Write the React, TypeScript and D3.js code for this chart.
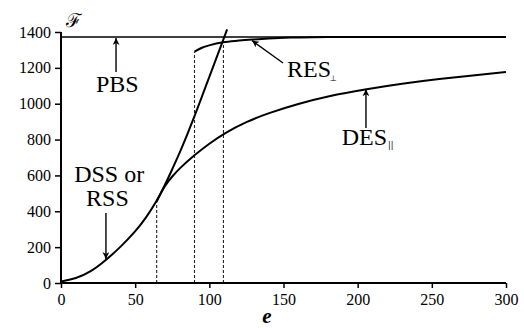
import React, { useEffect, useRef } from "react";
import * as d3 from "d3";

// curve readings (e, F)
const dssE = [0, 10, 20, 30, 40, 50, 57, 64.5, 70, 75, 80, 85, 90, 95, 100, 105, 110, 112];
const dssF = [8, 24, 62, 125, 200, 285, 360, 455, 545, 635, 725, 825, 930, 1040, 1150, 1260, 1370, 1415];

const desE = [64.5, 70, 75, 80, 90, 100, 110, 125, 140, 160, 180, 205, 230, 255, 280, 300];
const desF = [455, 545, 595, 640, 714, 778, 835, 900, 948, 1000, 1042, 1080, 1112, 1138, 1160, 1177];

const resE = [90, 95, 100.5, 109.4, 120, 129, 140, 155, 170, 200, 300];
const resF = [1290, 1312, 1327, 1343, 1352, 1358, 1364, 1369, 1371, 1372, 1372];

const pbsF = 1372;

// dashed verticals: e and top F
const dropE = [64.5, 90, 109.5];
const dropF = [455, 1290, 1370];

const xTicks = [0, 50, 100, 150, 200, 250, 300];
const yTicks = [0, 200, 400, 600, 800, 1000, 1200, 1400];

// arrows [e0, F0, e1, F1] tail -> tip
const arrows = [
  [37.1, 1177, 37.1, 1366],
  [30.3, 390, 30.3, 134],
  [149.7, 1227, 128.8, 1352],
  [205.6, 864, 205.6, 1080],
];

export default function App() {
  const ref = useRef<SVGSVGElement>(null);

  useEffect(() => {
    const svg = d3.select(ref.current);
    svg.selectAll("*").remove();

    const x = d3.scaleLinear().domain([0, 300]).range([61, 506]);
    const y = d3.scaleLinear().domain([0, 1400]).range([283, 32]);
    const font = "'Liberation Serif', 'Times New Roman', Tinos, 'DejaVu Serif', serif";

    svg
      .append("defs")
      .append("marker")
      .attr("id", "ah")
      .attr("viewBox", "0 0 10 10")
      .attr("refX", 10)
      .attr("refY", 5)
      .attr("markerWidth", 9)
      .attr("markerHeight", 7)
      .attr("markerUnits", "userSpaceOnUse")
      .attr("orient", "auto")
      .append("path")
      .attr("d", "M0,0 L10,5 L0,10 L3,5 Z")
      .attr("fill", "#000");

    // dashed drop lines
    svg
      .selectAll(".drop")
      .data(dropE)
      .enter()
      .append("line")
      .attr("x1", (d) => x(d))
      .attr("x2", (d) => x(d))
      .attr("y1", y(0))
      .attr("y2", (d, i) => y(dropF[i]))
      .attr("stroke", "#222")
      .attr("stroke-width", 1.1)
      .attr("stroke-dasharray", "3,2");

    // PBS line
    svg
      .append("line")
      .attr("x1", x(0))
      .attr("x2", x(300))
      .attr("y1", y(pbsF))
      .attr("y2", y(pbsF))
      .attr("stroke", "#000")
      .attr("stroke-width", 1.3);

    const curves: [number[], number[], d3.CurveFactory][] = [
      [dssE, dssF, d3.curveBasis],
      [desE, desF, d3.curveBasis],
      [resE, resF, d3.curveMonotoneX],
    ];
    curves.forEach(([es, fs, cv]) => {
      const line = d3
        .line<number>()
        .x((d) => x(d))
        .y((d, i) => y(fs[i]))
        .curve(cv);
      svg
        .append("path")
        .attr("d", line(es))
        .attr("fill", "none")
        .attr("stroke", "#000")
        .attr("stroke-width", 2);
    });

    // axes
    const gx = svg
      .append("g")
      .attr("transform", `translate(0,${y(0)})`)
      .call(
        d3.axisBottom(x).tickValues(xTicks).tickFormat(d3.format("d")).tickSize(5).tickPadding(6)
      );
    const gy = svg
      .append("g")
      .attr("transform", `translate(${x(0)},0)`)
      .call(
        d3.axisLeft(y).tickValues(yTicks).tickFormat(d3.format("d")).tickSize(6).tickPadding(4)
      );
    [gx, gy].forEach((g) => {
      g.attr("font-family", font).attr("font-size", 16);
      g.select(".domain").attr("stroke-width", 2).attr("stroke", "#000");
      g.selectAll(".tick line").attr("stroke-width", 1.5).attr("stroke", "#000");
      g.selectAll(".tick text").attr("fill", "#000");
    });
    gx.select(".domain").attr("d", `M${x(0)},0H${x(300)}`);
    gy.select(".domain").attr("d", `M0,${y(0)}V${y(1400)}`);

    // arrows
    svg
      .selectAll(".arr")
      .data(arrows)
      .enter()
      .append("line")
      .attr("x1", (d) => x(d[0]))
      .attr("y1", (d) => y(d[1]))
      .attr("x2", (d) => x(d[2]))
      .attr("y2", (d) => y(d[3]))
      .attr("stroke", "#000")
      .attr("stroke-width", 1.4)
      .attr("marker-end", "url(#ah)");

    const label = (e: number, f: number, t: string, anchor = "start") =>
      svg
        .append("text")
        .attr("x", x(e))
        .attr("y", y(f))
        .attr("text-anchor", anchor)
        .attr("font-family", font)
        .attr("font-size", 24)
        .attr("fill", "#000")
        .text(t);

    label(38, 1065, "PBS", "middle");
    label(32.5, 563, "DSS or", "middle");
    label(31.3, 429, "RSS", "middle");
    label(152.4, 1149, "RES");
    label(189.2, 770, "DES");
    // subscripts
    svg
      .append("text")
      .attr("x", 330)
      .attr("y", 81)
      .attr("font-family", "DejaVu Sans")
      .attr("font-size", 8)
      .attr("fill", "#000")
      .text("⊥");
    svg
      .append("text")
      .attr("x", 388)
      .attr("y", 148)
      .attr("font-family", "DejaVu Sans")
      .attr("font-size", 8)
      .attr("fill", "#000")
      .text("||");

    // axis titles
    svg
      .append("text")
      .attr("x", 267)
      .attr("y", 323)
      .attr("text-anchor", "middle")
      .attr("font-family", font)
      .attr("font-style", "italic")
      .attr("font-weight", "bold")
      .attr("font-size", 21)
      .attr("fill", "#000")
      .text("e");
    svg
      .append("text")
      .attr("x", 66)
      .attr("y", 27)
      .attr("font-family", "DejaVu Serif")
      .attr("font-size", 19)
      .attr("fill", "#000")
      .text("ℱ");
  }, []);

  return (
    <div style={{ position: "absolute", left: 0, top: 0 }}>
      <svg ref={ref} width={524} height={328} style={{ display: "block", background: "#fff" }} />
    </div>
  );
}
